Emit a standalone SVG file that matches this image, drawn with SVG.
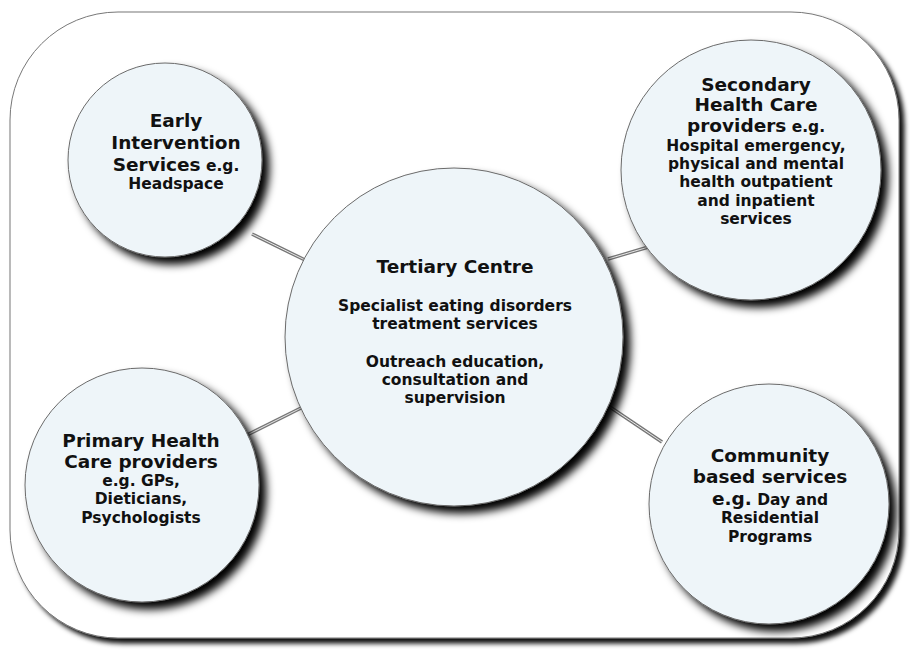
<svg xmlns="http://www.w3.org/2000/svg" width="910" height="652" viewBox="0 0 910 652">
<defs>
<filter id="sh" x="-20%" y="-20%" width="150%" height="150%">
<feDropShadow dx="7" dy="7" stdDeviation="4.5" flood-color="#000" flood-opacity="1"/>
</filter>
<filter id="shr" x="-5%" y="-5%" width="115%" height="115%">
<feDropShadow dx="5" dy="5" stdDeviation="2.5" flood-color="#000" flood-opacity="0.95"/>
</filter>
</defs>
<style>
.node{fill:#eef5f9;stroke:#6a6a6a;stroke-width:1;filter:url(#sh)}
.t{font-family:"DejaVu Sans","Liberation Sans",sans-serif;font-weight:bold;fill:#111;text-anchor:middle}
.h{font-size:18.5px}
.s{font-size:15.5px}
.c1{stroke:#777;stroke-width:3.5;fill:none}
.c2{stroke:#e8e8e8;stroke-width:1;fill:none}
</style>
<rect x="10" y="12" width="889" height="626" rx="108" ry="108" fill="#fff" stroke="#777" stroke-width="1" filter="url(#shr)"/>
<g id="connectors">
<line class="c1" x1="252" y1="234" x2="305" y2="260"/>
<line class="c2" x1="252" y1="234" x2="305" y2="260"/>
<line class="c1" x1="608" y1="259" x2="662" y2="243"/>
<line class="c2" x1="608" y1="259" x2="662" y2="243"/>
<line class="c1" x1="247" y1="435" x2="305" y2="406"/>
<line class="c2" x1="247" y1="435" x2="305" y2="406"/>
<line class="c1" x1="607" y1="405" x2="662" y2="442"/>
<line class="c2" x1="607" y1="405" x2="662" y2="442"/>
</g>
<g id="early">
<circle class="node" cx="165" cy="160" r="97"/>
<text class="t h" x="176" y="127">Early</text>
<text class="t h" x="176" y="149">Intervention</text>
<text class="t" x="176" y="171"><tspan class="h">Services</tspan><tspan class="s"> e.g.</tspan></text>
<text class="t s" x="176" y="189">Headspace</text>
</g>
<g id="tertiary">
<circle class="node" cx="454" cy="337" r="169"/>
<text class="t h" x="455" y="273">Tertiary Centre</text>
<text class="t s" x="455" y="311">Specialist eating disorders</text>
<text class="t s" x="455" y="329">treatment services</text>
<text class="t s" x="455" y="367">Outreach education,</text>
<text class="t s" x="455" y="385">consultation and</text>
<text class="t s" x="455" y="403">supervision</text>
</g>
<g id="secondary">
<circle class="node" cx="751" cy="170" r="130"/>
<text class="t h" x="756" y="91">Secondary</text>
<text class="t h" x="756" y="111">Health Care</text>
<text class="t" x="756" y="132"><tspan class="h">providers</tspan><tspan class="s"> e.g.</tspan></text>
<text class="t s" x="756" y="151">Hospital emergency,</text>
<text class="t s" x="756" y="169">physical and mental</text>
<text class="t s" x="756" y="187">health outpatient</text>
<text class="t s" x="756" y="206">and inpatient</text>
<text class="t s" x="756" y="224">services</text>
</g>
<g id="primary">
<circle class="node" cx="142" cy="485" r="117"/>
<text class="t h" x="141" y="447">Primary Health</text>
<text class="t h" x="141" y="468">Care providers</text>
<text class="t s" x="141" y="486">e.g. GPs,</text>
<text class="t s" x="141" y="504">Dieticians,</text>
<text class="t s" x="141" y="523">Psychologists</text>
</g>
<g id="community">
<circle class="node" cx="769" cy="504" r="120"/>
<text class="t h" x="770" y="462">Community</text>
<text class="t h" x="770" y="483">based services</text>
<text class="t" x="770" y="505"><tspan class="h">e.g.</tspan><tspan class="s"> Day and</tspan></text>
<text class="t s" x="770" y="523">Residential</text>
<text class="t s" x="770" y="542">Programs</text>
</g>
</svg>
